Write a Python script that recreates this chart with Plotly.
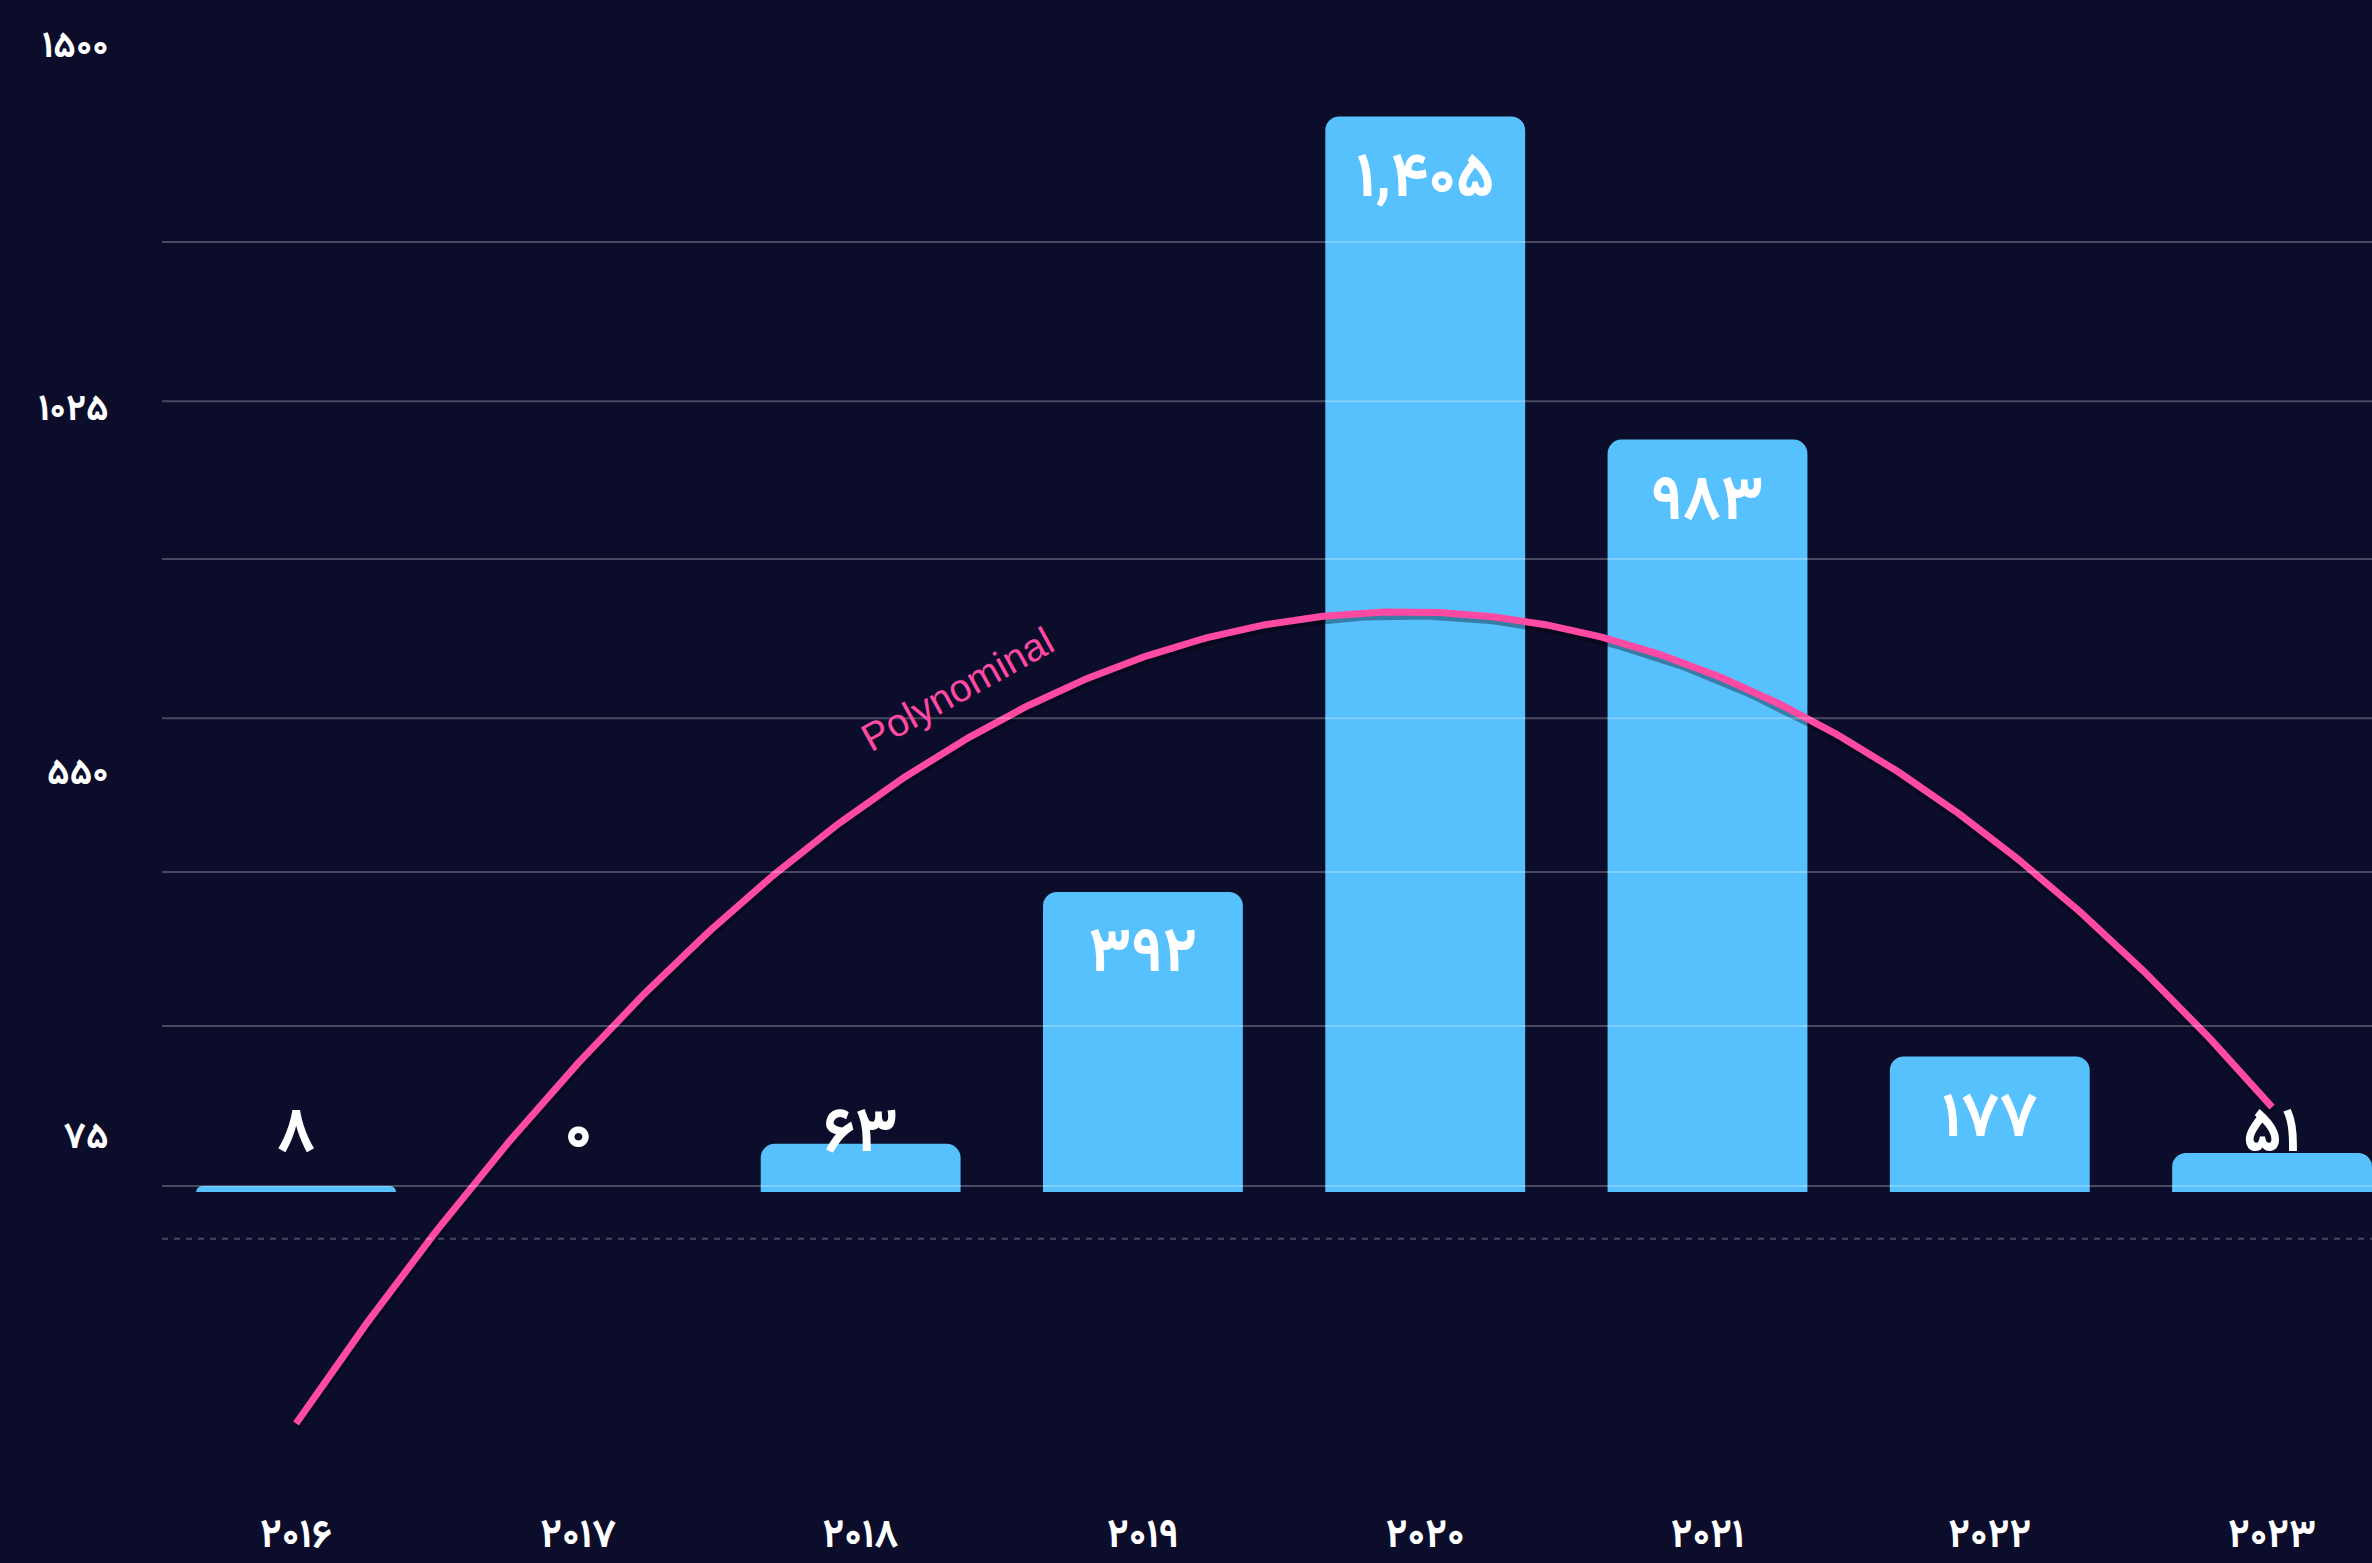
import numpy as np
import plotly.graph_objects as go

# ---- data ----
years = [2016, 2017, 2018, 2019, 2020, 2021, 2022, 2023]
counts = [8, 0, 63, 392, 1405, 983, 177, 51]
y_tick_values = [75, 550, 1025, 1500]
grid_values = [8, 217, 418, 619, 827, 1033, 1241]
dashed_value = -61
trend_degree = 2
trend_label = "Polynominal"

# ---- style ----
BG = "#0b0d2b"
BAR = "#56c1fd"
PINK = "#ff4aa3"
GRID = "rgba(255,255,255,0.25)"
FONT = "Vazirmatn, 'Noto Sans Arabic', 'Noto Naskh Arabic', 'DejaVu Sans'"
INSIDE_MIN = 100
LABEL_FLOOR = 74

FA = str.maketrans("0123456789", "۰۱۲۳۴۵۶۷۸۹")


def fa(v):
    return f"{v:,}".translate(FA)


x = np.arange(len(years))
coef = np.polyfit(x, counts, trend_degree)
xs = np.linspace(0, len(years) - 1, 400)
ys = np.polyval(coef, xs)

inside = [v >= INSIDE_MIN for v in counts]

fig = go.Figure()
fig.add_trace(go.Bar(
    x=x, y=counts, width=0.708,
    marker=dict(color=BAR, cornerradius=14, line_width=0),
    text=[fa(v) if m else "" for v, m in zip(counts, inside)],
    textposition="inside", insidetextanchor="end", textangle=0,
    textfont=dict(color="white", size=63, family=FONT, weight="bold"),
    hoverinfo="skip",
))
# soft shadow under the trend line
fig.add_trace(go.Scatter(
    x=xs, y=ys - 4, mode="lines",
    line=dict(color="rgba(0,0,0,0.35)", width=9),
    hoverinfo="skip",
))
fig.add_trace(go.Scatter(
    x=xs, y=ys, mode="lines",
    line=dict(color=PINK, width=7),
    hoverinfo="skip",
))
small_x = [xi for xi, m in zip(x, inside) if not m]
small_t = [fa(v) for v, m in zip(counts, inside) if not m]
fig.add_trace(go.Scatter(
    x=small_x, y=[LABEL_FLOOR] * len(small_x), mode="text",
    text=small_t, textposition="middle center",
    textfont=dict(color="white", size=63, family=FONT, weight="bold"),
    hoverinfo="skip",
))

shapes = []
for g in grid_values:
    shapes.append(dict(type="line", xref="paper", x0=0, x1=1, yref="y", y0=g, y1=g,
                       line=dict(color=GRID, width=2), layer="above"))
shapes.append(dict(type="line", xref="paper", x0=0, x1=1, yref="y", y0=dashed_value, y1=dashed_value,
                   line=dict(color=GRID, width=2, dash="6px,6px"), layer="above"))

fig.add_annotation(x=2.34, y=657, xref="x", yref="y", text=trend_label, showarrow=False,
                   textangle=-29, font=dict(color=PINK, size=39, family="Liberation Sans"))

fig.update_layout(
    width=2372, height=1563,
    margin=dict(l=162, r=0, t=0, b=70),
    paper_bgcolor=BG, plot_bgcolor=BG,
    showlegend=False, bargap=0.29,
    shapes=shapes,
    xaxis=dict(range=[-0.475, 7.354], tickvals=list(x), ticktext=[fa(y).replace(",", "") for y in years],
               showgrid=False, zeroline=False, showline=False,
               ticks="outside", ticklen=5, tickcolor="rgba(0,0,0,0)", automargin=False,
               tickfont=dict(color="white", size=40, family=FONT, weight="bold")),
    yaxis=dict(range=[-393.2, 1557.2], tickvals=y_tick_values, ticktext=[fa(v).replace(",", "") for v in y_tick_values],
               showgrid=False, zeroline=False, showline=False,
               ticks="outside", ticklen=45, tickcolor="rgba(0,0,0,0)", automargin=False,
               tickfont=dict(color="white", size=37, family=FONT, weight="bold")),
)

fig.write_html("out.html")
